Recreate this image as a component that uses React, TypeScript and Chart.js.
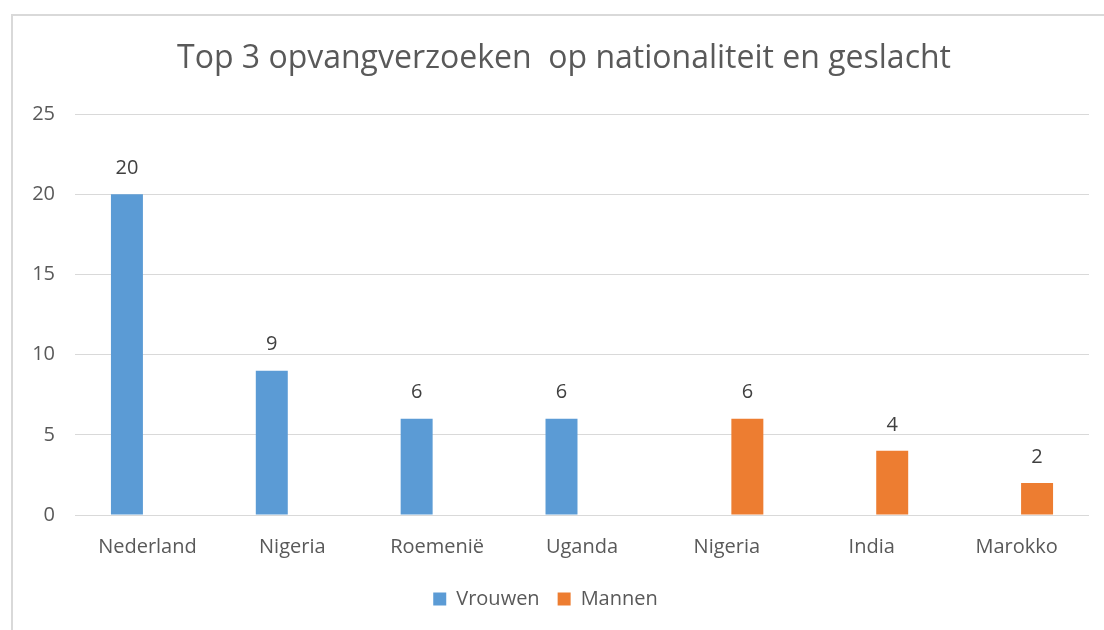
import React, { useEffect, useRef } from "react";
import { Chart, registerables } from "chart.js";

Chart.register(...registerables);

const categories = ["Nederland", "Nigeria", "Roemenië", "Uganda", "Nigeria", "India", "Marokko"];
const vrouwen: (number | null)[] = [20, 9, 6, 6, null, null, null];
const mannen: (number | null)[] = [null, null, null, null, 6, 4, 2];
const yTicks = [0, 5, 10, 15, 20, 25];
const titleText = "Top 3 opvangverzoeken  op nationaliteit en geslacht";

const FONT = "'Open Sans', 'Noto Sans', sans-serif";

const frame = {
  id: "frame",
  beforeDraw(chart: any) {
    const ctx = chart.ctx;
    ctx.save();
    ctx.fillStyle = "#ffffff";
    ctx.fillRect(0, 0, chart.width, chart.height);
    ctx.strokeStyle = "#d9d9d9";
    ctx.lineWidth = 2;
    ctx.strokeRect(12, 15, chart.width + 20, chart.height + 20);
    ctx.font = `32px ${FONT}`;
    ctx.fillStyle = "#595959";
    ctx.textAlign = "center";
    ctx.textBaseline = "middle";
    ctx.fillText(titleText, 564, 59);
    ctx.restore();
  },
};

const valueLabels = {
  id: "valueLabels",
  afterDatasetsDraw(chart: any) {
    const ctx = chart.ctx;
    ctx.save();
    ctx.font = `20px ${FONT}`;
    ctx.fillStyle = "#404040";
    ctx.textAlign = "center";
    ctx.textBaseline = "middle";
    chart.data.datasets.forEach((ds: any, i: number) => {
      const meta = chart.getDatasetMeta(i);
      meta.data.forEach((el: any, j: number) => {
        const v = ds.data[j];
        if (v === null || v === undefined) return;
        ctx.fillText(String(v), el.x, el.y - 26);
      });
    });
    ctx.restore();
  },
};

export default function App() {
  const ref = useRef<HTMLCanvasElement>(null);
  useEffect(() => {
    document.body.style.margin = "0";
    const chart = new Chart(ref.current as HTMLCanvasElement, {
      type: "bar",
      data: {
        labels: categories,
        datasets: [
          { label: "Vrouwen", data: vrouwen, backgroundColor: "#5B9BD5", categoryPercentage: 0.566, barPercentage: 0.78 },
          { label: "Mannen", data: mannen, backgroundColor: "#ED7D31", categoryPercentage: 0.566, barPercentage: 0.78 },
        ],
      },
      options: {
        animation: false,
        responsive: false,
        layout: { padding: { left: 2, right: 15, top: 114, bottom: 11 } },
        plugins: {
          title: { display: false },
          legend: {
            position: "bottom",
            labels: {
              color: "#595959",
              font: { family: FONT, size: 20 },
              boxWidth: 13,
              boxHeight: 13,
              padding: 18,
            },
          },
          tooltip: { enabled: false },
        },
        scales: {
          x: {
            grid: { display: false },
            border: { display: false },
            ticks: { color: "#595959", font: { family: FONT, size: 20 }, padding: 12 },
          },
          y: {
            min: 0,
            max: 25,
            afterBuildTicks(scale: any) {
              scale.ticks = yTicks.map((v) => ({ value: v }));
            },
            afterFit(scale: any) {
              scale.width = 73;
            },
            grid: { color: "#d9d9d9", drawTicks: false },
            border: { display: false },
            ticks: { color: "#595959", font: { family: FONT, size: 20 }, padding: 20 },
          },
        },
      },
      plugins: [frame, valueLabels],
    });
    return () => chart.destroy();
  }, []);
  return <canvas ref={ref} width={1104} height={630} style={{ display: "block" }} />;
}
